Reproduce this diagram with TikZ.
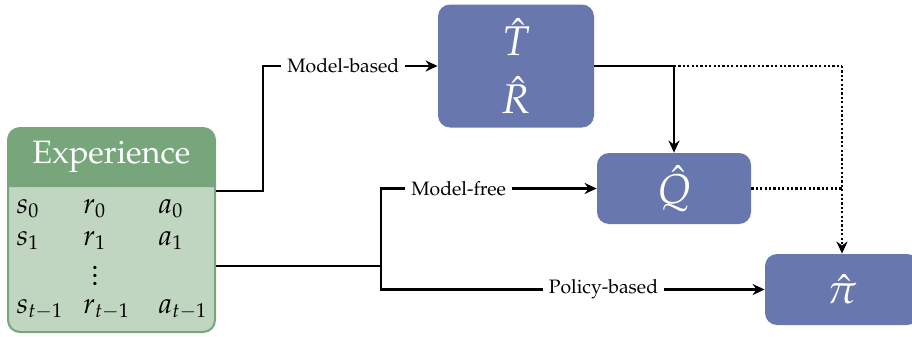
\documentclass[tikz,border=0pt]{standalone}
\usepackage[T1]{fontenc}
\usepackage{mathpazo}
\usetikzlibrary{arrows.meta}
\definecolor{boxblue}{RGB}{104,120,174}
\definecolor{expdark}{RGB}{118,166,122}
\definecolor{explight}{RGB}{193,214,193}
\begin{document}
\begin{tikzpicture}[x=0.5pt,y=-0.5pt,
  bluebox/.style={rectangle, rounded corners=6pt, fill=boxblue, draw=none, text=white, font=\huge, inner sep=0pt},
  conn/.style={line width=1.2pt, black},
  arr/.style={conn, -{Stealth[length=6pt,width=5.5pt]}},
  dotl/.style={line width=1.2pt, dash pattern=on 1.1pt off 1.1pt},
  lab/.style={fill=white, inner sep=3pt, font=\fontsize{9.7}{12}\selectfont},
  cell/.style={anchor=base west, inner sep=0pt, font=\Large}]
\useasboundingbox (0,0) rectangle (912,337);
% Experience box
\node[rectangle, rounded corners=6pt, fill=explight, draw=expdark, line width=1pt,
      minimum width=103.5pt, minimum height=102pt, inner sep=0pt] (exp) at (111.5,230) {};
\fill[expdark] (8,187) {[rounded corners=6pt] -- (8,128) -- (215,128)} -- (215,187) -- cycle;
\node[text=white, font=\fontsize{16.2}{20}\selectfont] (exptitle) at (111.5,157) {Experience};
\node[cell] (s0) at (16,213) {$s_0$};
\node[cell] (r0) at (83,213) {$r_0$};
\node[cell] (a0) at (158,213) {$a_0$};
\node[cell] (s1) at (16,245) {$s_1$};
\node[cell] (r1) at (83,245) {$r_1$};
\node[cell] (a1) at (158,245) {$a_1$};
\node[inner sep=0pt, font=\Large] (vd) at (95,270) {$\vdots$};
\node[cell] (s2) at (16,313) {$s_{t-1}$};
\node[cell] (r2) at (83,313) {$r_{t-1}$};
\node[cell] (a2) at (158,313) {$a_{t-1}$};
% blue boxes
\node[bluebox, minimum width=78pt, minimum height=61.5pt, align=center] (tr) at (516,66)
  {$\hat{T}$\\[4pt]$\hat{R}$};
\node[bluebox, minimum width=77pt, minimum height=35.5pt] (q) at (674,188.5) {$\hat{Q}$};
\node[bluebox, minimum width=77pt, minimum height=35.5pt] (pi) at (842,289.5) {$\hat{\pi}$};
% connectors
\draw[arr] ([yshift=19.5pt]exp.east) -- ++(47,0) |- node[lab, pos=0.73] {Model-based} (tr.west);
\coordinate (j) at (381,266);
\draw[conn] ([yshift=-18pt]exp.east) -- (j);
\draw[arr] (j) |- node[lab, pos=0.68] {Model-free} (q.west);
\draw[arr] (j) |- node[lab, pos=0.79] {Policy-based} (pi.west);
\draw[arr] (tr.east) -- (tr.east -| q.north) -- (q.north);
\draw[dotl] (tr.east -| q.north) -- (tr.east -| pi.north);
\draw[dotl, -{Stealth[length=6pt,width=5.5pt]}] (tr.east -| pi.north) -- (pi.north);
\draw[dotl] (q.east) -- (q.east -| pi.north);
\end{tikzpicture}
\end{document}
